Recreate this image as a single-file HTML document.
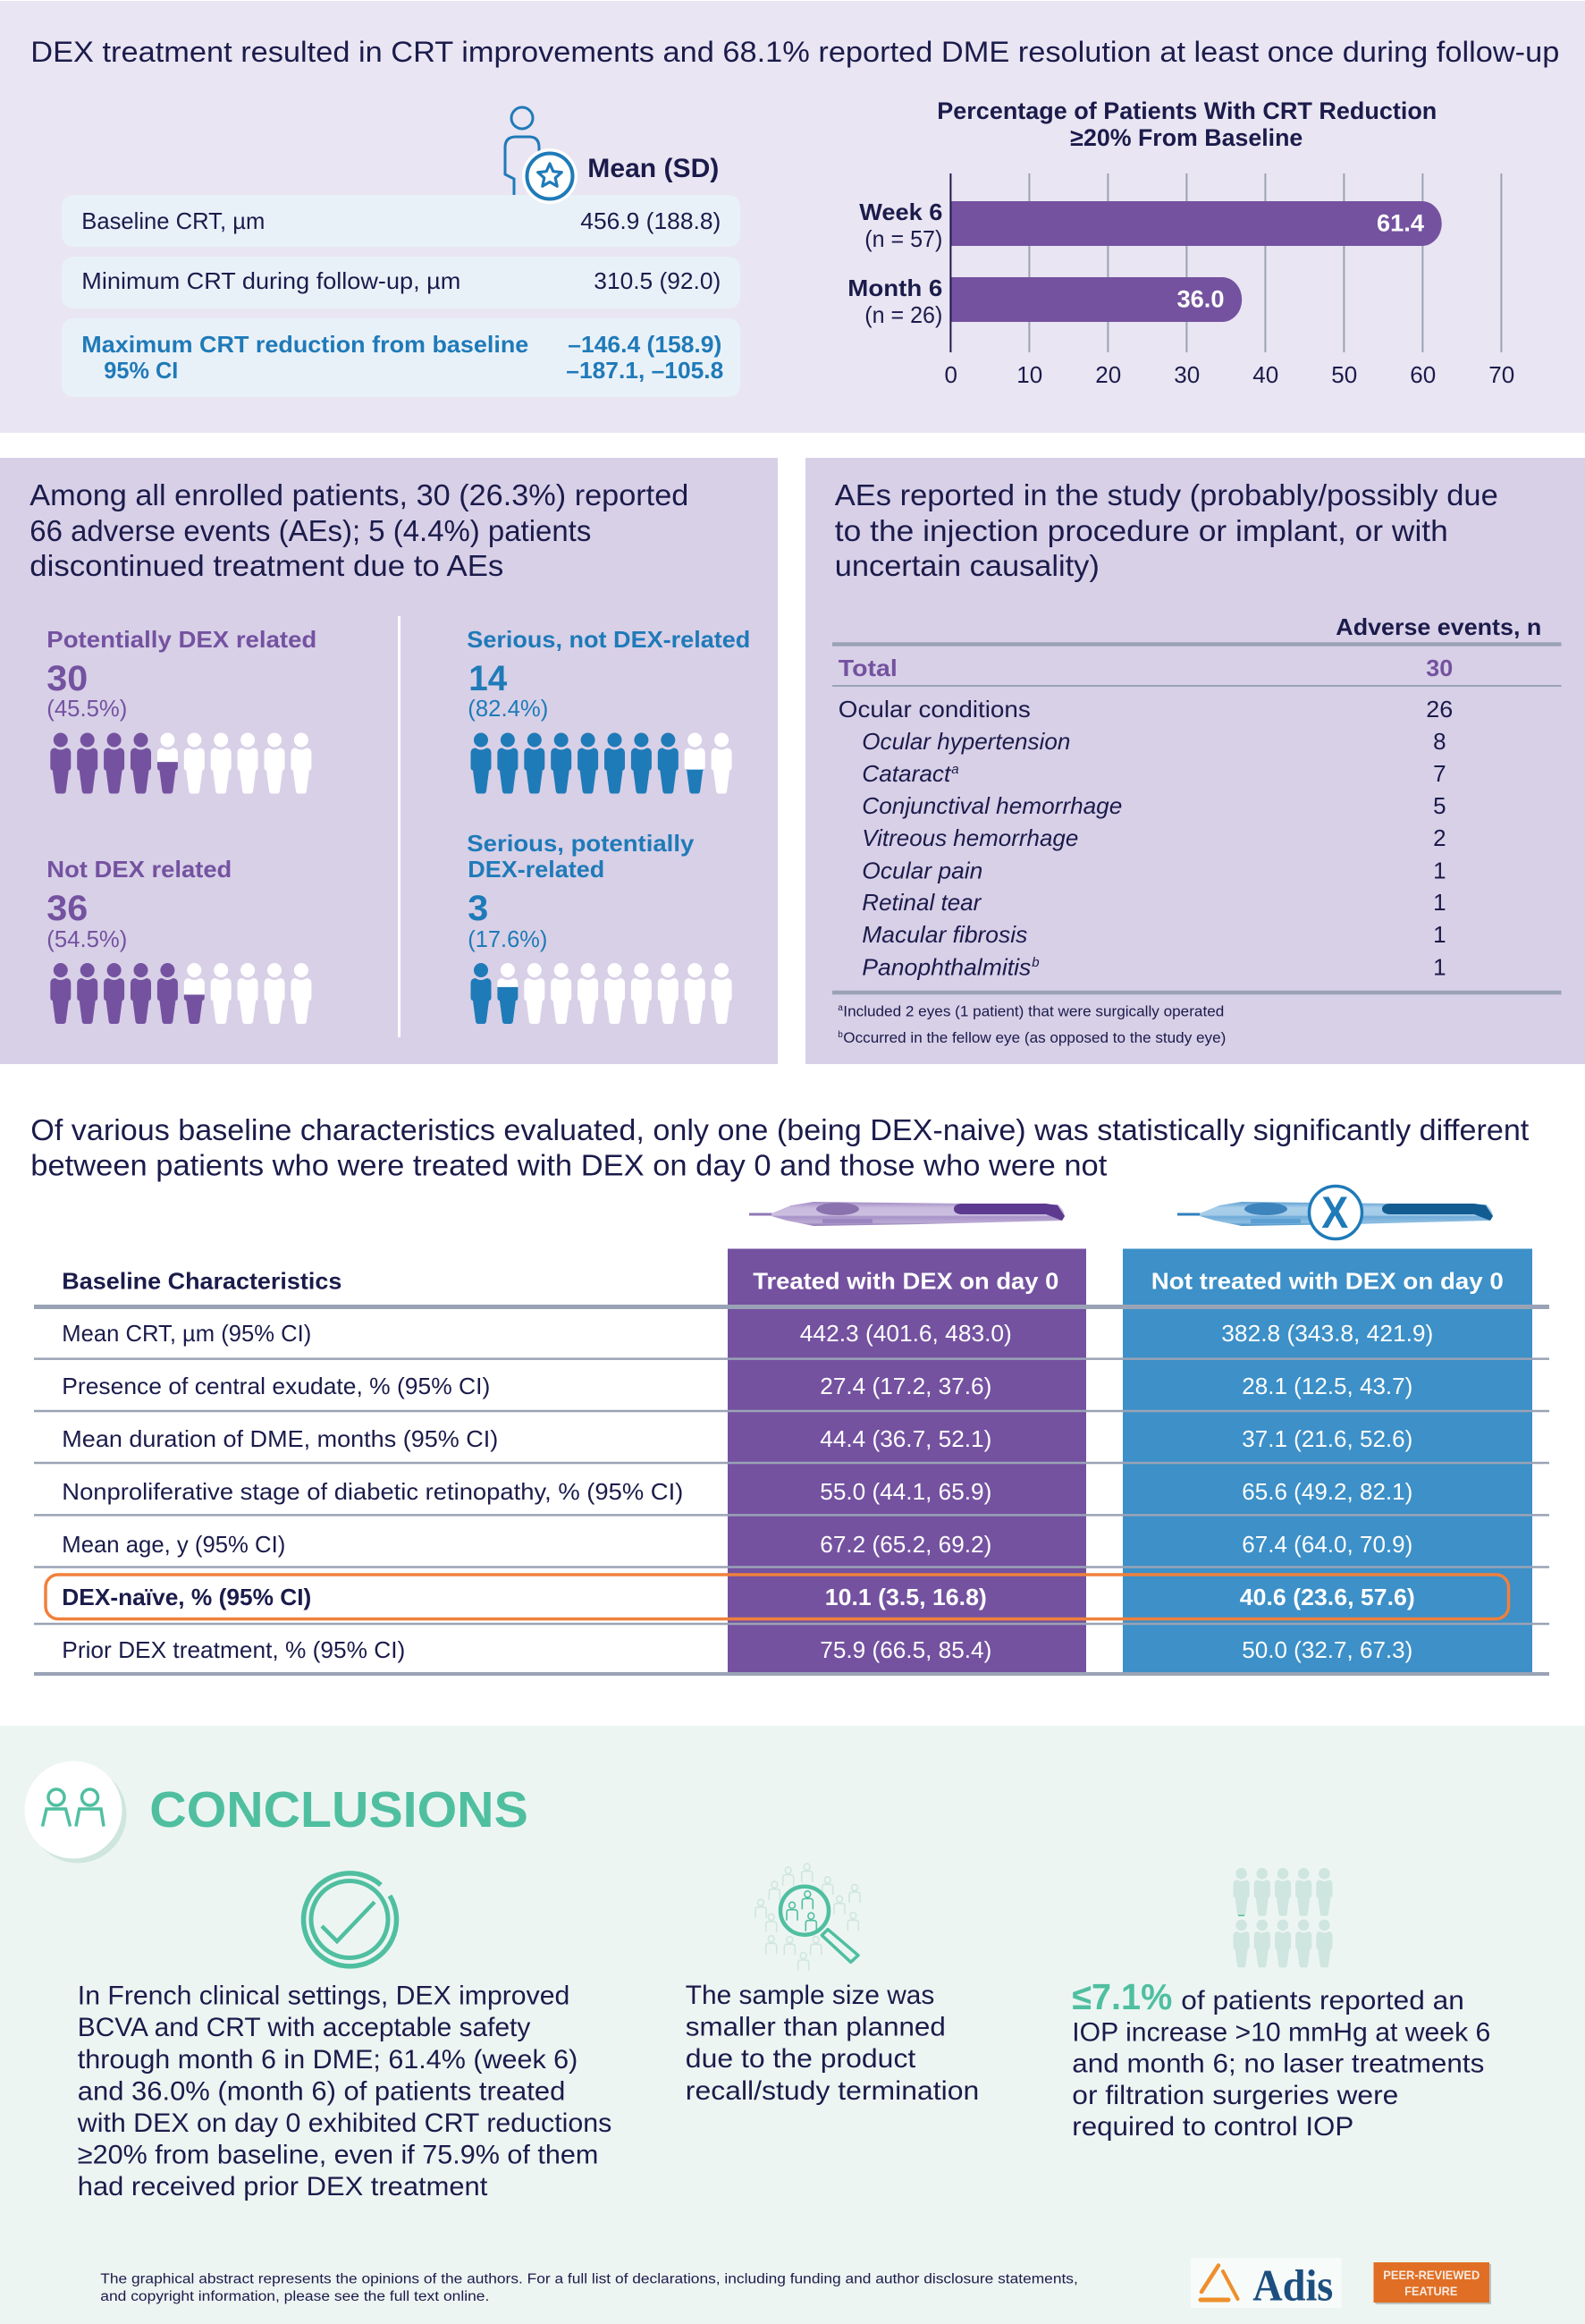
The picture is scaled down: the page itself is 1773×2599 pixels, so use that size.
<!DOCTYPE html>
<html lang="en">
<head>
<meta charset="utf-8">
<title>DEX treatment graphical abstract</title>
<style>
html,body{margin:0;padding:0;background:#fff}
svg{display:block}
text{font-family:"Liberation Sans",sans-serif;fill:#1b1b4b;transform:translate(-.7px,-.8px)}
.s32{font-size:32px}.s33{font-size:33px}.s30{font-size:30px}.s27{font-size:27px}
.s26{font-size:26px}.s17{font-size:17px}.s15{font-size:15.5px}.s40{font-size:40px}
.b{font-weight:700}.i{font-style:italic}
.p{fill:#7452a0}.bl{fill:#1f7ab8}.w{fill:#fff}.tl{fill:#4fbfa0}
.m{text-anchor:middle}.e{text-anchor:end}
.ln{stroke:#9aa3b5;fill:none}
</style>
</head>
<body>
<svg xmlns="http://www.w3.org/2000/svg" width="1773" height="2599" viewBox="0 0 1773 2599">
<defs>
<linearGradient id="pg" x1="0" y1="0" x2="0" y2="1"><stop offset="0" stop-color="#a08cc4"/><stop offset=".25" stop-color="#c9bade"/><stop offset=".55" stop-color="#cbbfe0"/><stop offset=".62" stop-color="#a892c8"/><stop offset=".85" stop-color="#bbaad4"/><stop offset="1" stop-color="#8c76b4"/></linearGradient>
<linearGradient id="bg" x1="0" y1="0" x2="0" y2="1"><stop offset="0" stop-color="#5d9fd2"/><stop offset=".25" stop-color="#a9cfea"/><stop offset=".55" stop-color="#a3cbe8"/><stop offset=".62" stop-color="#6fabd9"/><stop offset=".85" stop-color="#8fbfe2"/><stop offset="1" stop-color="#3f8cc4"/></linearGradient>
<g id="op" fill="none" stroke-width="1.6"><ellipse cx="0" cy="-7" rx="3.4" ry="3.6"/><path d="M-6 10V1Q-6-2-3-2H3Q6-2 6 1V10"/></g>
</defs>

<!-- Section 1 -->
<rect x="0" y="1" width="1773" height="483" fill="#e9e5f2"/>
<text x="35" y="70" class="s32" textLength="1710">DEX treatment resulted in CRT improvements and 68.1% reported DME resolution at least once during follow-up</text>

<g>
<ellipse cx="584" cy="132" rx="12" ry="12" fill="none" stroke="#1f7ab8" stroke-width="3"/>
<path d="M575 220V200L565 195V165Q565 153 577 153H592Q603 153 603 165V172" fill="none" stroke="#1f7ab8" stroke-width="3"/>
</g>
<rect x="69" y="218" width="759" height="58" rx="13" fill="#e9f1f8"/>
<rect x="69" y="287" width="759" height="58" rx="13" fill="#e9f1f8"/>
<rect x="69" y="356" width="759" height="88" rx="13" fill="#e9f1f8"/>
<g>
<circle cx="615" cy="197" r="31" fill="#fff"/>
<circle cx="615" cy="197" r="25.5" fill="#fff" stroke="#1f7ab8" stroke-width="4"/>
<polygon points="615,183 618.8,191.7 628.3,192.7 621.2,199 623.2,208.3 615,203.5 606.8,208.3 608.8,199 601.7,192.7 611.2,191.7" fill="#fff" stroke="#1f7ab8" stroke-width="3.2" stroke-linejoin="round"/>
</g>
<text x="658" y="199" class="s30 b" textLength="147">Mean (SD)</text>
<text x="92" y="257" class="s26" textLength="205">Baseline CRT, µm</text>
<text x="650" y="257" class="s26" textLength="157">456.9 (188.8)</text>
<text x="92" y="324" class="s26" textLength="424">Minimum CRT during follow-up, µm</text>
<text x="665" y="324" class="s26" textLength="142">310.5 (92.0)</text>
<text x="92" y="395" class="s26 b bl" textLength="500">Maximum CRT reduction from baseline</text>
<text x="117" y="424" class="s26 b bl" textLength="83">95% CI</text>
<text x="636" y="395" class="s26 b bl" textLength="172">–146.4 (158.9)</text>
<text x="634" y="424" class="s26 b bl" textLength="176">–187.1, –105.8</text>

<text x="1049" y="134" class="s27 b" textLength="559">Percentage of Patients With CRT Reduction</text>
<text x="1198" y="164" class="s27 b" textLength="260">≥20% From Baseline</text>
<g id="chart"></g>

<!-- Section 2 left -->
<rect x="0" y="512" width="870" height="678" fill="#d8d0e7"/>
<g>
<text x="34" y="566" class="s33" textLength="737">Among all enrolled patients, 30 (26.3%) reported</text>
<text x="34" y="606" class="s33" textLength="628">66 adverse events (AEs); 5 (4.4%) patients</text>
<text x="34" y="645" class="s33" textLength="530">discontinued treatment due to AEs</text>
</g>
<rect x="445" y="689" width="3" height="471" fill="#fff"/>

<text x="53" y="725" class="s26 b p" textLength="302">Potentially DEX related</text>
<text x="53" y="773" class="s40 b p" textLength="46">30</text>
<text x="53" y="802" class="s26 p" textLength="90">(45.5%)</text>
<text x="53" y="982" class="s26 b p" textLength="207">Not DEX related</text>
<text x="53" y="1030" class="s40 b p" textLength="46">36</text>
<text x="53" y="1060" class="s26 p" textLength="90">(54.5%)</text>
<text x="523" y="725" class="s26 b bl" textLength="317">Serious, not DEX-related</text>
<text x="525" y="773" class="s40 b bl" textLength="43">14</text>
<text x="524" y="802" class="s26 bl" textLength="90">(82.4%)</text>
<text x="523" y="953" class="s26 b bl" textLength="254">Serious, potentially</text>
<text x="524" y="982" class="s26 b bl" textLength="153">DEX-related</text>
<text x="524" y="1030" class="s40 b bl" textLength="23">3</text>
<text x="524" y="1060" class="s26 bl" textLength="89">(17.6%)</text>
<g id="pictograms"></g>

<!-- Section 2 right -->
<rect x="901" y="512" width="872" height="678" fill="#d8d0e7"/>
<g>
<text x="934.5" y="566" class="s33" textLength="742">AEs reported in the study (probably/possibly due</text>
<text x="934.5" y="606" class="s33" textLength="686">to the injection procedure or implant, or with</text>
<text x="934.5" y="645" class="s33" textLength="296">uncertain causality)</text>
</g>
<text x="1495" y="711" class="s26 b" textLength="230">Adverse events, n</text>
<line x1="931" x2="1746.5" y1="720.5" y2="720.5" class="ln" stroke-width="4.5"/>
<text x="938.5" y="757" class="s26 b p" textLength="66">Total</text>
<text x="1611" y="757" class="s26 b p m" textLength="30">30</text>
<line x1="931" x2="1746.5" y1="767" y2="767" class="ln" stroke-width="2"/>
<g><text x="938.5" y="803" class="s26" textLength="215">Ocular conditions</text><text x="1611" y="803" class="s26 m" textLength="30">26</text></g>
<g><text x="965" y="839" class="s26 i" textLength="233">Ocular hypertension</text><text x="1611" y="839" class="s26 m">8</text></g>
<g><text x="965" y="875" class="s26 i" textLength="99">Cataract</text><text x="1065" y="866" class="i" font-size="15">a</text><text x="1611" y="875" class="s26 m">7</text></g>
<g><text x="965" y="911" class="s26 i" textLength="291">Conjunctival hemorrhage</text><text x="1611" y="911" class="s26 m">5</text></g>
<g><text x="965" y="947" class="s26 i" textLength="242">Vitreous hemorrhage</text><text x="1611" y="947" class="s26 m">2</text></g>
<g><text x="965" y="983.5" class="s26 i" textLength="135">Ocular pain</text><text x="1611" y="983.5" class="s26 m">1</text></g>
<g><text x="965" y="1019" class="s26 i" textLength="133">Retinal tear</text><text x="1611" y="1019" class="s26 m">1</text></g>
<g><text x="965" y="1055" class="s26 i" textLength="185">Macular fibrosis</text><text x="1611" y="1055" class="s26 m">1</text></g>
<g><text x="965" y="1091.5" class="s26 i" textLength="189">Panophthalmitis</text><text x="1155" y="1082" class="i" font-size="15">b</text><text x="1611" y="1091.5" class="s26 m">1</text></g>
<line x1="931" x2="1746.5" y1="1110" y2="1110" class="ln" stroke-width="4.5"/>
<g><text x="938" y="1131" font-size="10">a</text><text x="944" y="1137.5" class="s17" textLength="426">Included 2 eyes (1 patient) that were surgically operated</text></g>
<g><text x="938" y="1161" font-size="10">b</text><text x="944" y="1167" class="s17" textLength="428">Occurred in the fellow eye (as opposed to the study eye)</text></g>

<!-- Section 3 -->
<g>
<text x="35" y="1276" class="s33" textLength="1676">Of various baseline characteristics evaluated, only one (being DEX-naive) was statistically significantly different</text>
<text x="35" y="1315.5" class="s33" textLength="1204">between patients who were treated with DEX on day 0 and those who were not</text>
</g>
<g>
<rect x="838" y="1356.5" width="28" height="3" fill="#8f78b6"/>
<path d="M863 1357L885 1348 910 1344 1167 1347 1183 1347Q1190 1352 1191 1360L1188 1365 1030 1369 910 1371 880 1365 863 1360Z" fill="url(#pg)"/>
<ellipse cx="937" cy="1352" rx="24" ry="7" fill="#8a72ae"/>
<rect x="920" y="1363" width="56" height="5" fill="#9c86c0"/>
<path d="M1075 1346H1170L1183 1348 1191 1360 1188 1365 1170 1358H1075Q1067 1357 1067 1352 1067 1347 1075 1346Z" fill="#5b3a8f"/>
</g>
<g>
<rect x="1317" y="1356.5" width="28" height="3" fill="#2f7fbd"/>
<path d="M1342 1357L1364 1348 1389 1344 1646 1347 1662 1347Q1669 1352 1670 1360L1667 1365 1509 1369 1389 1371 1359 1365 1342 1360Z" fill="url(#bg)"/>
<ellipse cx="1416" cy="1352" rx="24" ry="7" fill="#3d84bd"/>
<rect x="1399" y="1363" width="56" height="5" fill="#5c9fd3"/>
<path d="M1554 1346H1649L1662 1348 1670 1360 1667 1365 1649 1358H1554Q1546 1357 1546 1352 1546 1347 1554 1346Z" fill="#135c92"/>
<circle cx="1494" cy="1356" r="29.5" fill="#fff" stroke="#1f7ab8" stroke-width="3.5"/>
<text x="1494" y="1374" font-size="50" class="b bl m" textLength="30">X</text>
</g>

<rect x="814" y="1396.5" width="401" height="474" fill="#7452a0"/>
<rect x="1256" y="1396.5" width="458" height="474" fill="#3d90c8"/>
<g>
<line x1="38" x2="1733" y1="1461.5" y2="1461.5" class="ln" stroke-width="5"/>
<line x1="38" x2="1733" y1="1519.6" y2="1519.6" class="ln" stroke-width="2.5"/>
<line x1="38" x2="1733" y1="1578" y2="1578" class="ln" stroke-width="2.5"/>
<line x1="38" x2="1733" y1="1636" y2="1636" class="ln" stroke-width="2.5"/>
<line x1="38" x2="1733" y1="1694.4" y2="1694.4" class="ln" stroke-width="2.5"/>
<line x1="38" x2="1733" y1="1752.5" y2="1752.5" class="ln" stroke-width="2.5"/>
<line x1="38" x2="1733" y1="1816" y2="1816" class="ln" stroke-width="2.5"/>
<line x1="38" x2="1733" y1="1872" y2="1872" class="ln" stroke-width="4"/>
</g>
<g>
<text x="70" y="1442.5" class="s26 b" textLength="313">Baseline Characteristics</text>
<text x="1014" y="1442.5" class="s26 b w m" textLength="342">Treated with DEX on day 0</text>
<text x="1485.5" y="1442.5" class="s26 b w m" textLength="394">Not treated with DEX on day 0</text>
</g>
<g><text x="70" y="1501" class="s26" textLength="279">Mean CRT, µm (95% CI)</text><text x="1014" y="1501" class="s26 w m" textLength="237">442.3 (401.6, 483.0)</text><text x="1485.5" y="1501" class="s26 w m" textLength="237">382.8 (343.8, 421.9)</text></g>
<g><text x="70" y="1560" class="s26" textLength="479">Presence of central exudate, % (95% CI)</text><text x="1014" y="1560" class="s26 w m" textLength="192">27.4 (17.2, 37.6)</text><text x="1485.5" y="1560" class="s26 w m" textLength="191">28.1 (12.5, 43.7)</text></g>
<g><text x="70" y="1619" class="s26" textLength="488">Mean duration of DME, months (95% CI)</text><text x="1014" y="1619" class="s26 w m" textLength="192">44.4 (36.7, 52.1)</text><text x="1485.5" y="1619" class="s26 w m" textLength="191">37.1 (21.6, 52.6)</text></g>
<g><text x="70" y="1678" class="s26" textLength="695">Nonproliferative stage of diabetic retinopathy, % (95% CI)</text><text x="1014" y="1678" class="s26 w m" textLength="192">55.0 (44.1, 65.9)</text><text x="1485.5" y="1678" class="s26 w m" textLength="191">65.6 (49.2, 82.1)</text></g>
<g><text x="70" y="1737" class="s26" textLength="250">Mean age, y (95% CI)</text><text x="1014" y="1737" class="s26 w m" textLength="192">67.2 (65.2, 69.2)</text><text x="1485.5" y="1737" class="s26 w m" textLength="191">67.4 (64.0, 70.9)</text></g>
<g><text x="70" y="1796" class="s26 b" textLength="279">DEX-naïve, % (95% CI)</text><text x="1014" y="1796" class="s26 b w m" textLength="181">10.1 (3.5, 16.8)</text><text x="1485.5" y="1796" class="s26 b w m" textLength="196">40.6 (23.6, 57.6)</text></g>
<g><text x="70" y="1855" class="s26" textLength="384">Prior DEX treatment, % (95% CI)</text><text x="1014" y="1855" class="s26 w m" textLength="192">75.9 (66.5, 85.4)</text><text x="1485.5" y="1855" class="s26 w m" textLength="191">50.0 (32.7, 67.3)</text></g>
<rect x="51" y="1761" width="1636.5" height="49.5" rx="14" fill="none" stroke="#f0803c" stroke-width="3.5"/>

<!-- Section 4 -->
<rect x="0" y="1930" width="1773" height="669" fill="#edf5f2"/>
<g>
<circle cx="87" cy="2029" r="54.5" fill="#cfe6df"/>
<circle cx="82" cy="2024" r="54.5" fill="#fff"/>
<g fill="none" stroke="#4fbfa0" stroke-width="3.5">
<ellipse cx="63" cy="2010" rx="9" ry="9"/><ellipse cx="100.5" cy="2010" rx="9" ry="9"/>
<path d="M47.5 2042.5L52 2023H73.5L78.5 2042.5"/><path d="M85 2042.5L88.7 2023H113L116 2042.5"/>
</g>
</g>
<text x="168" y="2044" font-size="57" class="b tl" textLength="423.5">CONCLUSIONS</text>

<g fill="none" stroke="#4fbfa0">
<path d="M436 2120A52 52 0 1 1 426 2108" stroke-width="5.5"/>
<circle cx="391" cy="2146.5" r="43" stroke-width="5"/>
<path d="M360 2154L377 2171 419 2127" stroke-width="4.5"/>
</g>
<g>
<text x="87.5" y="2242.5" class="s30" textLength="550.5">In French clinical settings, DEX improved</text>
<text x="87.5" y="2278" class="s30" textLength="506.5">BCVA and CRT with acceptable safety</text>
<text x="87.5" y="2314" class="s30" textLength="559.5">through month 6 in DME; 61.4% (week 6)</text>
<text x="87.5" y="2349.5" class="s30" textLength="545.5">and 36.0% (month 6) of patients treated</text>
<text x="87.5" y="2385" class="s30" textLength="597.5">with DEX on day 0 exhibited CRT reductions</text>
<text x="87.5" y="2420.5" class="s30" textLength="582.5">≥20% from baseline, even if 75.9% of them</text>
<text x="87.5" y="2456" class="s30" textLength="458.5">had received prior DEX treatment</text>
</g>

<g>
<g stroke="#cfe6df">
<use href="#op" x="881.7" y="2098.7"/><use href="#op" x="902.7" y="2094.7"/><use href="#op" x="925.7" y="2109.3"/><use href="#op" x="866.3" y="2114.7"/>
<use href="#op" x="956" y="2118"/><use href="#op" x="939" y="2130.7"/><use href="#op" x="851" y="2134.7"/><use href="#op" x="862.7" y="2151"/>
<use href="#op" x="954.3" y="2149.3"/><use href="#op" x="862.7" y="2175.3"/><use href="#op" x="883.3" y="2176.3"/><use href="#op" x="912.7" y="2176.3"/><use href="#op" x="898.7" y="2194"/>
</g>
<g stroke="#4fbfa0">
<use href="#op" x="903.3" y="2125.3"/><use href="#op" x="886" y="2137.7"/><use href="#op" x="907.3" y="2149.7"/>
</g>
<ellipse cx="900" cy="2136.7" rx="27" ry="27" fill="none" stroke="#4fbfa0" stroke-width="4.5"/>
<path d="M926 2157.7L919.3 2164.3 951.7 2194.3 960 2186.7Z" fill="none" stroke="#4fbfa0" stroke-width="3.5" stroke-linejoin="round"/>
</g>
<g>
<text x="767.5" y="2242" class="s30" textLength="278.5">The sample size was</text>
<text x="767.5" y="2277.5" class="s30" textLength="291">smaller than planned</text>
<text x="767.5" y="2313" class="s30" textLength="257.5">due to the product</text>
<text x="767.5" y="2349" class="s30" textLength="328.5">recall/study termination</text>
</g>

<g id="iopPeople"></g>
<g>
<text x="1200" y="2248" font-size="41" class="b tl" textLength="112">≤7.1%</text>
<text x="1322" y="2248" class="s30" textLength="316.5">of patients reported an</text>
<text x="1200" y="2283.5" class="s30" textLength="468">IOP increase &gt;10 mmHg at week 6</text>
<text x="1200" y="2318.5" class="s30" textLength="461">and month 6; no laser treatments</text>
<text x="1200" y="2354" class="s30" textLength="365">or filtration surgeries were</text>
<text x="1200" y="2389" class="s30" textLength="315">required to control IOP</text>
</g>

<g>
<text x="113" y="2554.5" class="s15" textLength="1093.5">The graphical abstract represents the opinions of the authors. For a full list of declarations, including funding and author disclosure statements,</text>
<text x="113" y="2574" class="s15" textLength="435">and copyright information, please see the full text online.</text>
</g>
<g>
<rect x="1332" y="2525" width="168.5" height="56" fill="#f7fbfa"/>
<g fill="none" stroke="#ee8f2c" stroke-linecap="round">
<path d="M1363 2533.5L1344 2563" stroke-width="4.5"/>
<path d="M1368 2540L1384.5 2571" stroke-width="4"/>
<path d="M1343 2572H1374" stroke-width="5"/>
</g>
<text x="1402" y="2573.5" font-size="50" font-weight="700" style="font-family:'Liberation Serif',serif;fill:#1c4f80" textLength="90">Adis</text>
</g>
<g>
<rect x="1538.5" y="2532" width="129.5" height="45" fill="#b9c3c0"/>
<rect x="1536.5" y="2530" width="129.5" height="45" fill="#e06f25"/>
<text x="1548" y="2550" font-size="14" font-weight="700" style="fill:#f8eadf" textLength="108">PEER-REVIEWED</text>
<text x="1572" y="2568" font-size="14" font-weight="700" style="fill:#f8eadf" textLength="59">FEATURE</text>
</g>
</svg>

<script>
// CRT-reduction bar chart data
const categories = ['Week 6', 'Month 6'];
const sampleSizes = ['(n = 57)', '(n = 26)'];
const barValues = [61.4, 36.0];
const tickValues = [0, 10, 20, 30, 40, 50, 60, 70];
// Pictogram data: percent of patients, one figure per 10%
const pictogramNames = ['potentially-dex-related', 'not-dex-related', 'serious-not-dex-related', 'serious-potentially-dex-related'];
const pictogramPercents = [45.5, 54.5, 82.4, 17.6];

const SVGNS = 'http://www.w3.org/2000/svg';
function mk(tag, attrs, parent) {
  const el = document.createElementNS(SVGNS, tag);
  for (const k in attrs) el.setAttribute(k, attrs[k]);
  parent.appendChild(el);
  return el;
}

// Axis functions
const xScale = v => 1063.4 + v * 8.8;
const bandY = i => 225 + i * 85;
const gridTop = 194, gridBottom = 394, barH = 50, capX = 22, capOver = 9;

const chart = document.getElementById('chart');
tickValues.forEach((t) => {
  if (t !== 0) {
    const g = mk('line', {x1: xScale(t), x2: xScale(t), y1: gridTop, y2: gridBottom, stroke: '#9aa3b5', 'stroke-width': 2}, chart);
    
    
  }
  const lab = mk('text', {x: xScale(t) + 1, y: 429, class: 's26 m'}, chart);
  lab.textContent = t;
  
  
});
barValues.forEach((v, i) => {
  const y = bandY(i), end = xScale(v) + capOver, x0 = xScale(0);
  const bar = mk('path', {d: `M${x0} ${y}H${end - capX}A${capX} ${barH / 2} 0 0 1 ${end - capX} ${y + barH}H${x0}Z`, fill: '#7452a0'}, chart);
  
  
  const val = mk('text', {x: xScale(v) - 10, y: y + 34.5, class: 's27 b w e', textLength: 53}, chart);
  val.textContent = v.toFixed(1);
  
  
  const cat = mk('text', {x: 1055, y: y + 22, class: 's26 b e', textLength: categories[i].length > 6 ? 106 : 93}, chart);
  cat.textContent = categories[i];
  
  
  const n = mk('text', {x: 1055, y: y + 52, class: 's26 e', textLength: 87}, chart);
  n.textContent = sampleSizes[i];
  
  
});
const axis = mk('line', {x1: xScale(0), x2: xScale(0), y1: gridTop, y2: gridBottom, stroke: '#1b1b4b', 'stroke-width': 2}, chart);



// Person figures
const PERSON = 'M0 19Q-3 19-6 17Q-11.5 17-11.5 23V38Q-11.5 42-9 42L-6 65Q-5.5 68-3 68H3Q5.5 68 6 65L9 42Q11.5 42 11.5 38V23Q11.5 17 6 17Q3 19 0 19ZM0 0A8 8 0 1 1 0 16A8 8 0 1 1 0 0Z';
const PERSON_H = 68;
function person(parent, cx, top, color, scale) {
  return mk('path', {d: PERSON, fill: color, transform: `translate(${cx} ${top}) scale(${scale || 1})`}, parent);
}
const pictoRoot = document.getElementById('pictograms');
const defs = document.querySelector('defs');
function pictogram(idx, x0, top, color) {
  const pct = pictogramPercents[idx];
  const whole = Math.floor(pct / 10);
  const rem = pct / 10 - whole;
  // the source artwork compresses the partial fill toward mid-figure
  const frac = 0.5 + (rem - 0.5) * 0.4;
  const grp = mk('g', {}, pictoRoot);
  
  
  for (let i = 0; i < 10; i++) {
    const cx = x0 + i * 29.9;
    const isFull = i < whole;
    const p = person(grp, cx, top, isFull ? color : '#fff');
    
    
    if (i === whole && rem > 0) {
      const id = 'clip' + idx;
      const cp = mk('clipPath', {id: id}, defs);
      mk('rect', {x: cx - 15, y: top + PERSON_H * (1 - frac), width: 30, height: PERSON_H * frac}, cp);
      const part = mk('g', {'clip-path': `url(#${id})`}, grp);
      const q = person(part, cx, top, color);
      
      
    }
  }
}
pictogram(0, 67.8, 819.5, '#7452a0');
pictogram(1, 67.8, 1077, '#7452a0');
pictogram(2, 538, 819.5, '#1f7ab8');
pictogram(3, 538, 1077, '#1f7ab8');

// Decorative IOP figures
const iop = document.getElementById('iopPeople');
for (let r = 0; r < 2; r++) {
  for (let c = 0; c < 5; c++) {
    const f = person(iop, 1388.6 + c * 23.2, 2089 + r * 57.6, '#cfe6e0', 0.79);
    
    
  }
}
const mark = mk('rect', {x: 1385, y: 2141.5, width: 7, height: 1.5, fill: '#4fbfa0'}, iop);



document.querySelectorAll('text[textLength]').forEach(t => t.setAttribute('lengthAdjust', 'spacingAndGlyphs'));
</script>
</body>
</html>
